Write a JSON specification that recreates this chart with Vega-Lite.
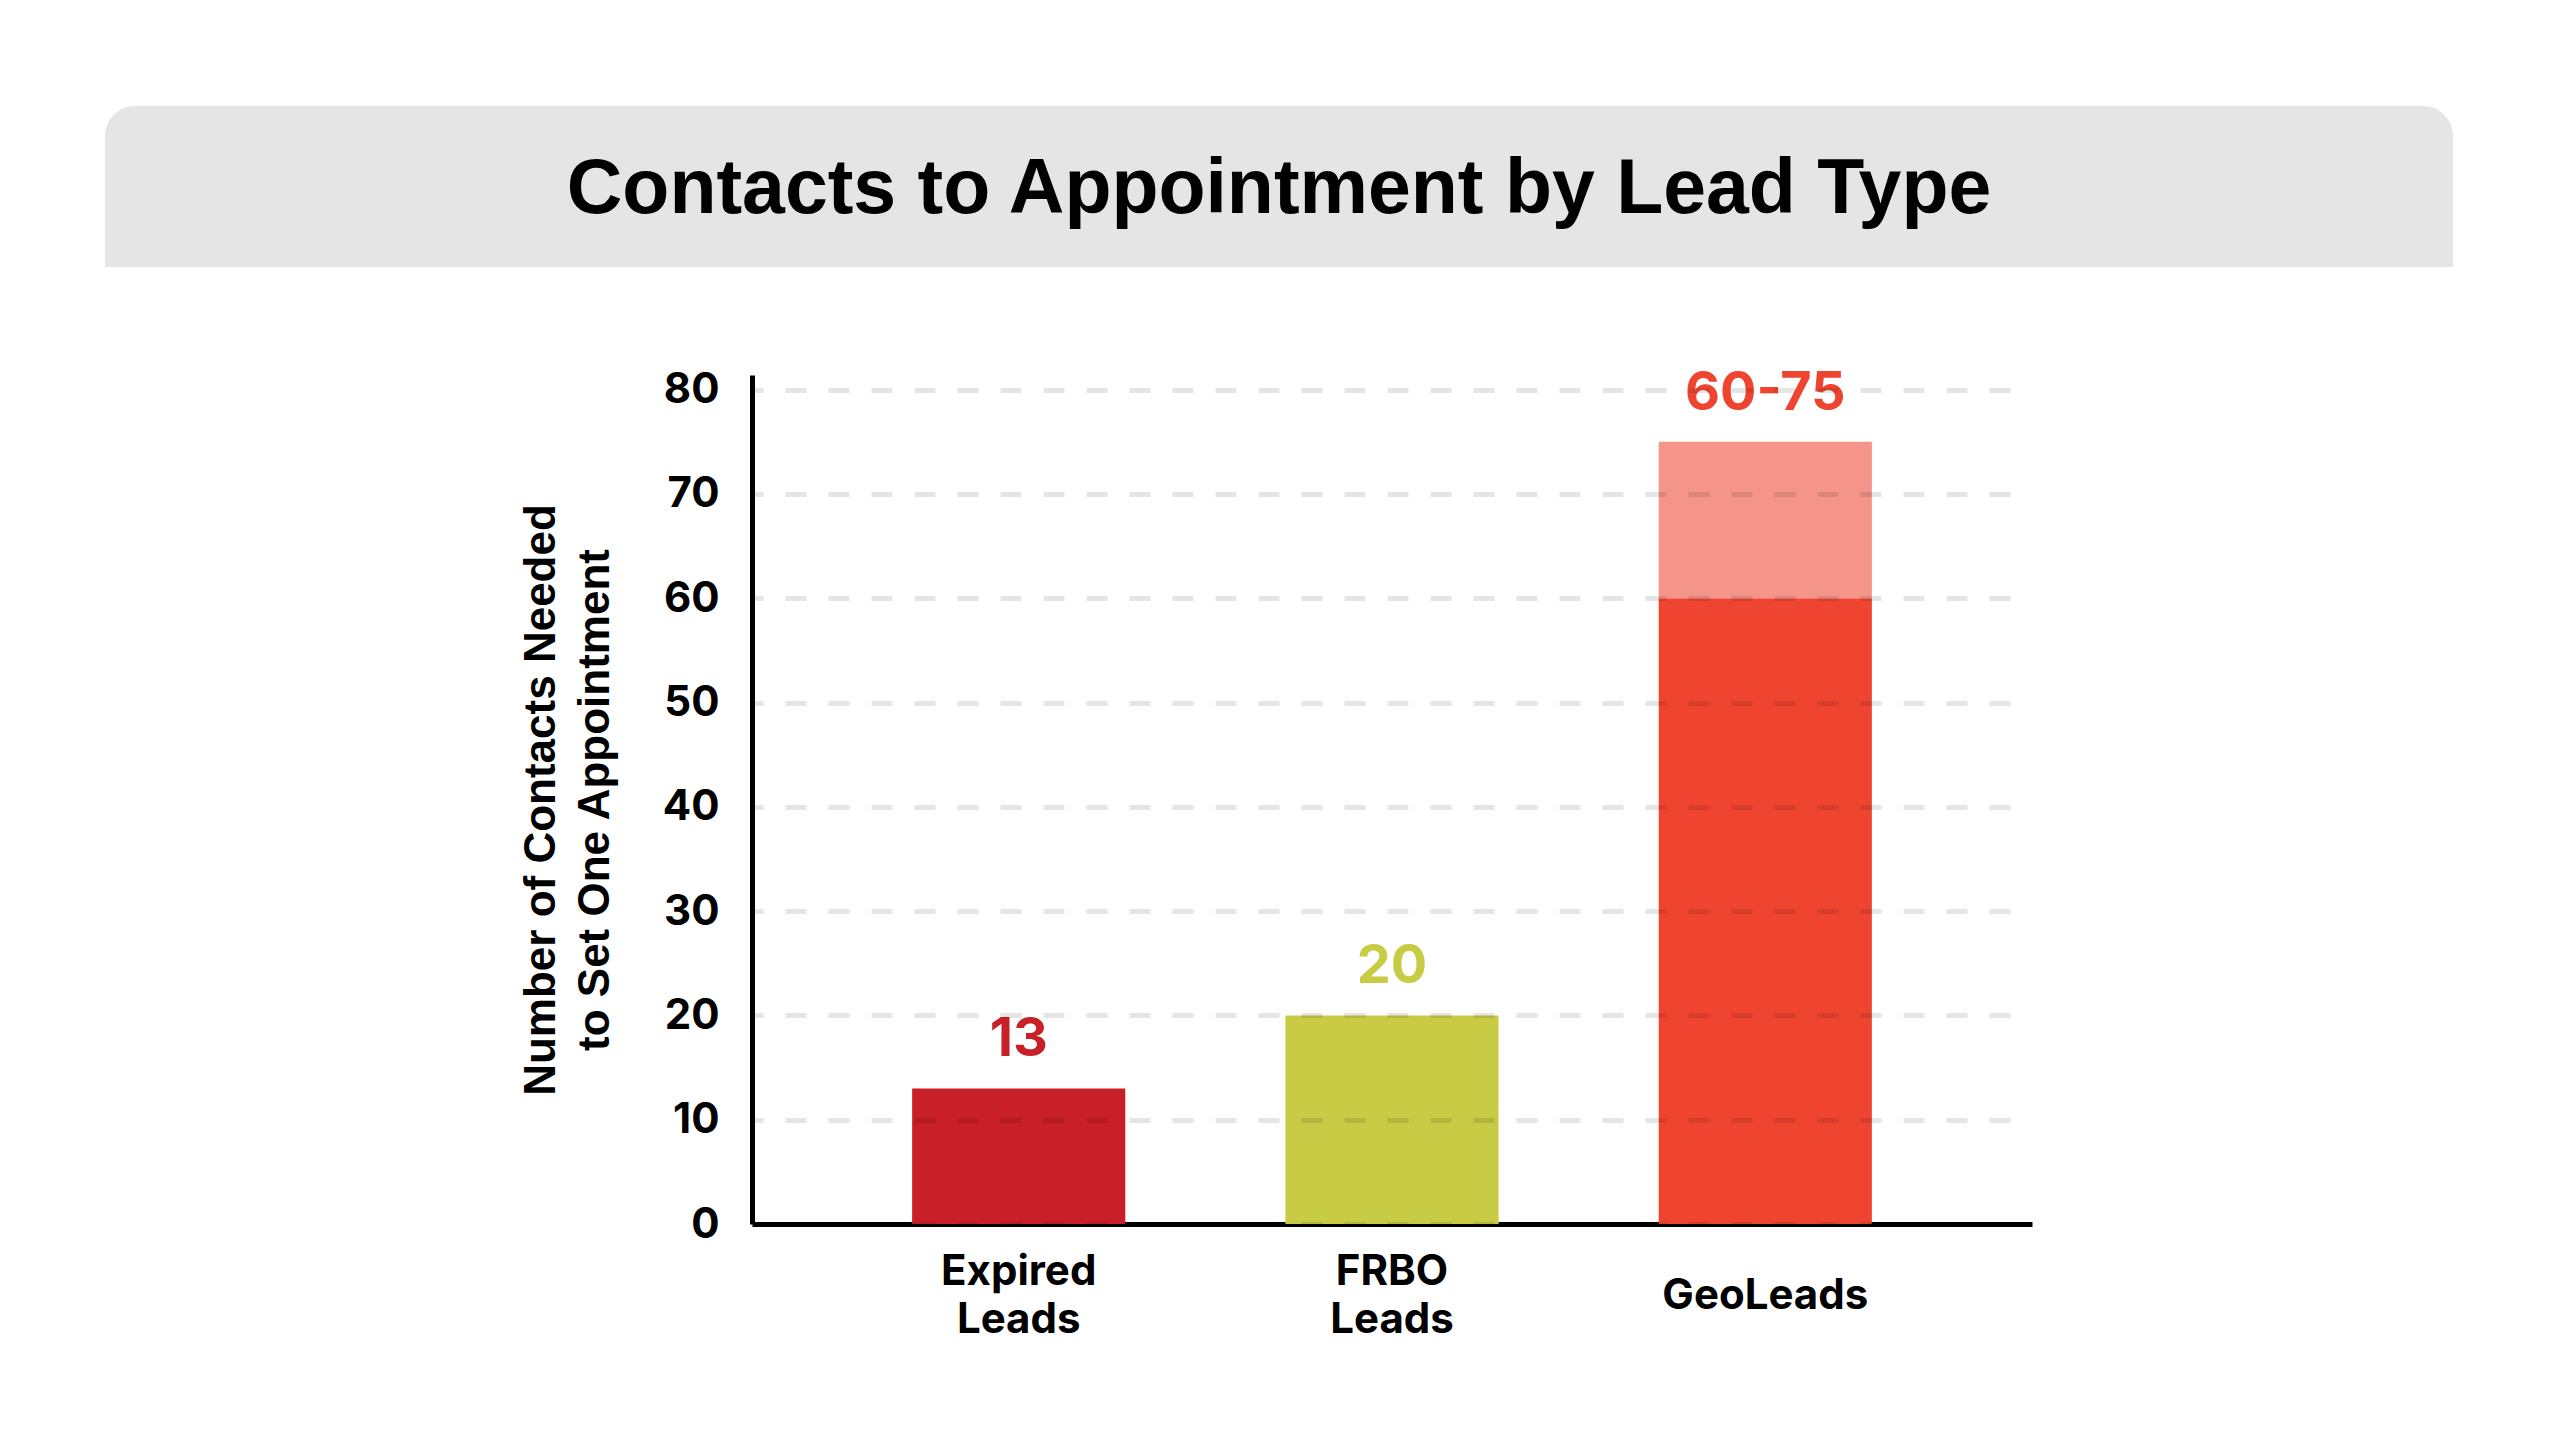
{
  "$schema": "https://vega.github.io/schema/vega-lite/v6.json",
  "background": "white",
  "padding": {"top": 106, "left": 105, "right": 0, "bottom": 60},
  "config": {"view": {"stroke": null}},
  "spacing": 99,
  "datasets": {
    "header": [{"title": "Contacts to Appointment by Lead Type"}],
    "bars": [
      {"lead": "Expired Leads", "part": "Expired", "low": 0, "high": 13},
      {"lead": "FRBO Leads", "part": "FRBO", "low": 0, "high": 20},
      {"lead": "GeoLeads", "part": "GeoLow", "low": 0, "high": 60},
      {"lead": "GeoLeads", "part": "GeoHigh", "low": 60, "high": 75}
    ],
    "labels": [
      {"lead": "Expired Leads", "part": "Expired", "value": 13, "label": "13"},
      {"lead": "FRBO Leads", "part": "FRBO", "value": 20, "label": "20"},
      {"lead": "GeoLeads", "part": "GeoLow", "value": 75, "label": "60-75"}
    ]
  },
  "vconcat": [
    {
      "width": 2348,
      "height": 161,
      "data": {"name": "header"},
      "layer": [
        {
          "mark": {"type": "rect", "color": "#e5e5e5", "cornerRadiusTopLeft": 30, "cornerRadiusTopRight": 30},
          "encoding": {}
        },
        {
          "mark": {"type": "text", "font": "Liberation Sans", "fontWeight": "bold", "fontSize": 77, "color": "#000000", "baseline": "middle", "align": "center", "dy": 3},
          "encoding": {"text": {"field": "title", "type": "nominal"}}
        }
      ]
    },
    {
      "spacing": 0,
      "hconcat": [
        {
          "width": 414,
          "height": 10,
          "data": {"name": "header"},
          "mark": {"type": "rect", "opacity": 0},
          "encoding": {}
        },
        {
          "width": 1280,
          "height": 849,
          "layer": [
            {
              "data": {"name": "bars"},
              "mark": {"type": "bar"},
              "encoding": {
                "x": {
                  "field": "lead", "type": "nominal", "sort": null,
                  "scale": {"domain": ["Expired Leads", "FRBO Leads", "GeoLeads"], "paddingInner": 0.429, "paddingOuter": 0.429},
                  "axis": {
                    "title": null, "domain": true, "domainColor": "#000000", "domainWidth": 5,
                    "ticks": false, "labelFont": "Inter", "labelFontWeight": "bold", "labelFontSize": 42,
                    "labelColor": "#000000", "labelExpr": "split(datum.label, ' ')", "labelLineHeight": 48,
                    "labelBaseline": "middle", "labelLimit": 0,
                    "labelPadding": {"condition": {"test": "datum.value === 'GeoLeads'", "value": 71}, "value": 47},
                    "labelAngle": 0, "grid": false
                  }
                },
                "y": {
                  "field": "low", "type": "quantitative",
                  "scale": {"domain": [0, 81.4], "nice": false, "zero": true},
                  "axis": {
                    "values": [0, 10, 20, 30, 40, 50, 60, 70, 80],
                    "grid": true, "gridColor": "#000000", "gridOpacity": 0.1, "gridWidth": 5,
                    "gridDash": [21, 22], "gridDashOffset": 10,
                    "domain": true, "domainColor": "#000000", "domainWidth": 5, "ticks": false,
                    "labelFont": "Inter", "labelFontWeight": "bold", "labelFontSize": 42, "labelColor": "#000000",
                    "labelPadding": 33,
                    "title": ["Number of Contacts Needed", "to Set One Appointment"],
                    "titleFont": "Liberation Sans", "titleFontWeight": "bold", "titleFontSize": 44,
                    "titleColor": "#000000", "titleLineHeight": 54, "titlePadding": 45,
                    "zindex": 1
                  }
                },
                "y2": {"field": "high"},
                "color": {
                  "field": "part", "type": "nominal",
                  "scale": {"domain": ["Expired", "FRBO", "GeoLow", "GeoHigh"], "range": ["#C91F28", "#C8CC44", "#EF4530", "#F5958A"]},
                  "legend": null
                }
              }
            },
            {
              "data": {"name": "labels"},
              "mark": {"type": "text", "font": "Inter", "fontWeight": "bold", "fontSize": 54, "baseline": "alphabetic", "align": "center", "dy": -32},
              "encoding": {
                "x": {"field": "lead", "type": "nominal", "sort": null},
                "y": {"field": "value", "type": "quantitative"},
                "text": {"field": "label", "type": "nominal"},
                "color": {"field": "part", "type": "nominal", "legend": null}
              }
            }
          ]
        }
      ]
    }
  ]
}
